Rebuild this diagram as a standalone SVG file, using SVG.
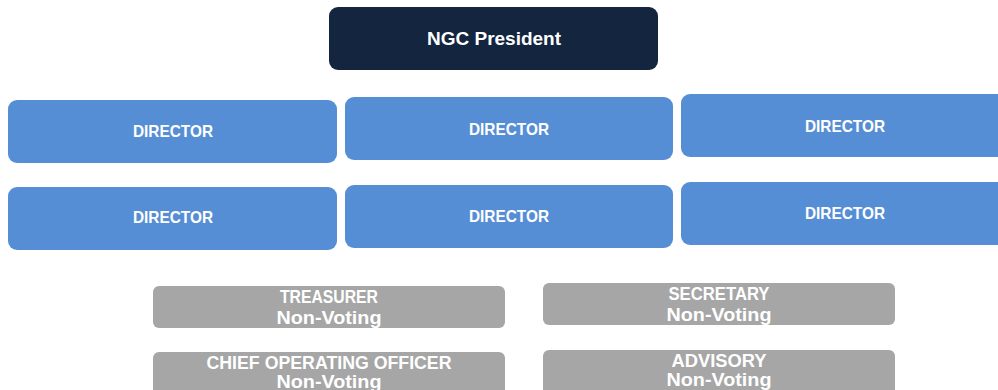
<svg xmlns="http://www.w3.org/2000/svg" width="998" height="390" viewBox="0 0 998 390">
<style>
.pres{fill:#13253F}
.dir{fill:#568ED6}
.off{fill:#A6A6A6}
text{font-family:"Liberation Sans",Arial,sans-serif;font-weight:bold;fill:#FFFFFF;text-anchor:middle}
.t1{font-size:19px}
.t2{font-size:16.5px}
.t3{font-size:18.5px}
</style>
<rect width="998" height="390" fill="#FFFFFF"/>
<g id="connectors"></g>
<g id="president">
<rect class="pres" x="329" y="7" width="329" height="63" rx="9"/>
<text class="t1" x="494" y="45">NGC President</text>
</g>
<g id="director1">
<rect class="dir" x="8" y="100" width="329" height="63" rx="9"/>
<text class="t2" x="173" y="137" textLength="80" lengthAdjust="spacingAndGlyphs">DIRECTOR</text>
</g>
<g id="director2">
<rect class="dir" x="345" y="97" width="328" height="63" rx="9"/>
<text class="t2" x="509" y="135" textLength="80" lengthAdjust="spacingAndGlyphs">DIRECTOR</text>
</g>
<g id="director3">
<rect class="dir" x="681" y="94" width="330" height="63" rx="9"/>
<text class="t2" x="845" y="132" textLength="80" lengthAdjust="spacingAndGlyphs">DIRECTOR</text>
</g>
<g id="director4">
<rect class="dir" x="8" y="187" width="329" height="63" rx="9"/>
<text class="t2" x="173" y="223" textLength="80" lengthAdjust="spacingAndGlyphs">DIRECTOR</text>
</g>
<g id="director5">
<rect class="dir" x="345" y="185" width="328" height="63" rx="9"/>
<text class="t2" x="509" y="222" textLength="80" lengthAdjust="spacingAndGlyphs">DIRECTOR</text>
</g>
<g id="director6">
<rect class="dir" x="681" y="182" width="330" height="63" rx="9"/>
<text class="t2" x="845" y="219" textLength="80" lengthAdjust="spacingAndGlyphs">DIRECTOR</text>
</g>
<g id="treasurer">
<rect class="off" x="153" y="286" width="352" height="42" rx="6"/>
<text class="t3" x="329" y="303" textLength="98" lengthAdjust="spacingAndGlyphs">TREASURER</text>
<text class="t3" x="329" y="324" textLength="105" lengthAdjust="spacingAndGlyphs">Non-Voting</text>
</g>
<g id="secretary">
<rect class="off" x="543" y="283" width="352" height="42" rx="6"/>
<text class="t3" x="719" y="300" textLength="101" lengthAdjust="spacingAndGlyphs">SECRETARY</text>
<text class="t3" x="719" y="321" textLength="105" lengthAdjust="spacingAndGlyphs">Non-Voting</text>
</g>
<g id="coo">
<rect class="off" x="153" y="352" width="352" height="48" rx="6"/>
<text class="t3" x="329" y="369" textLength="245" lengthAdjust="spacingAndGlyphs">CHIEF OPERATING OFFICER</text>
<text class="t3" x="329" y="388" textLength="105" lengthAdjust="spacingAndGlyphs">Non-Voting</text>
</g>
<g id="advisory">
<rect class="off" x="543" y="350" width="352" height="50" rx="6"/>
<text class="t3" x="719" y="367" textLength="95" lengthAdjust="spacingAndGlyphs">ADVISORY</text>
<text class="t3" x="719" y="386" textLength="105" lengthAdjust="spacingAndGlyphs">Non-Voting</text>
</g>
</svg>
